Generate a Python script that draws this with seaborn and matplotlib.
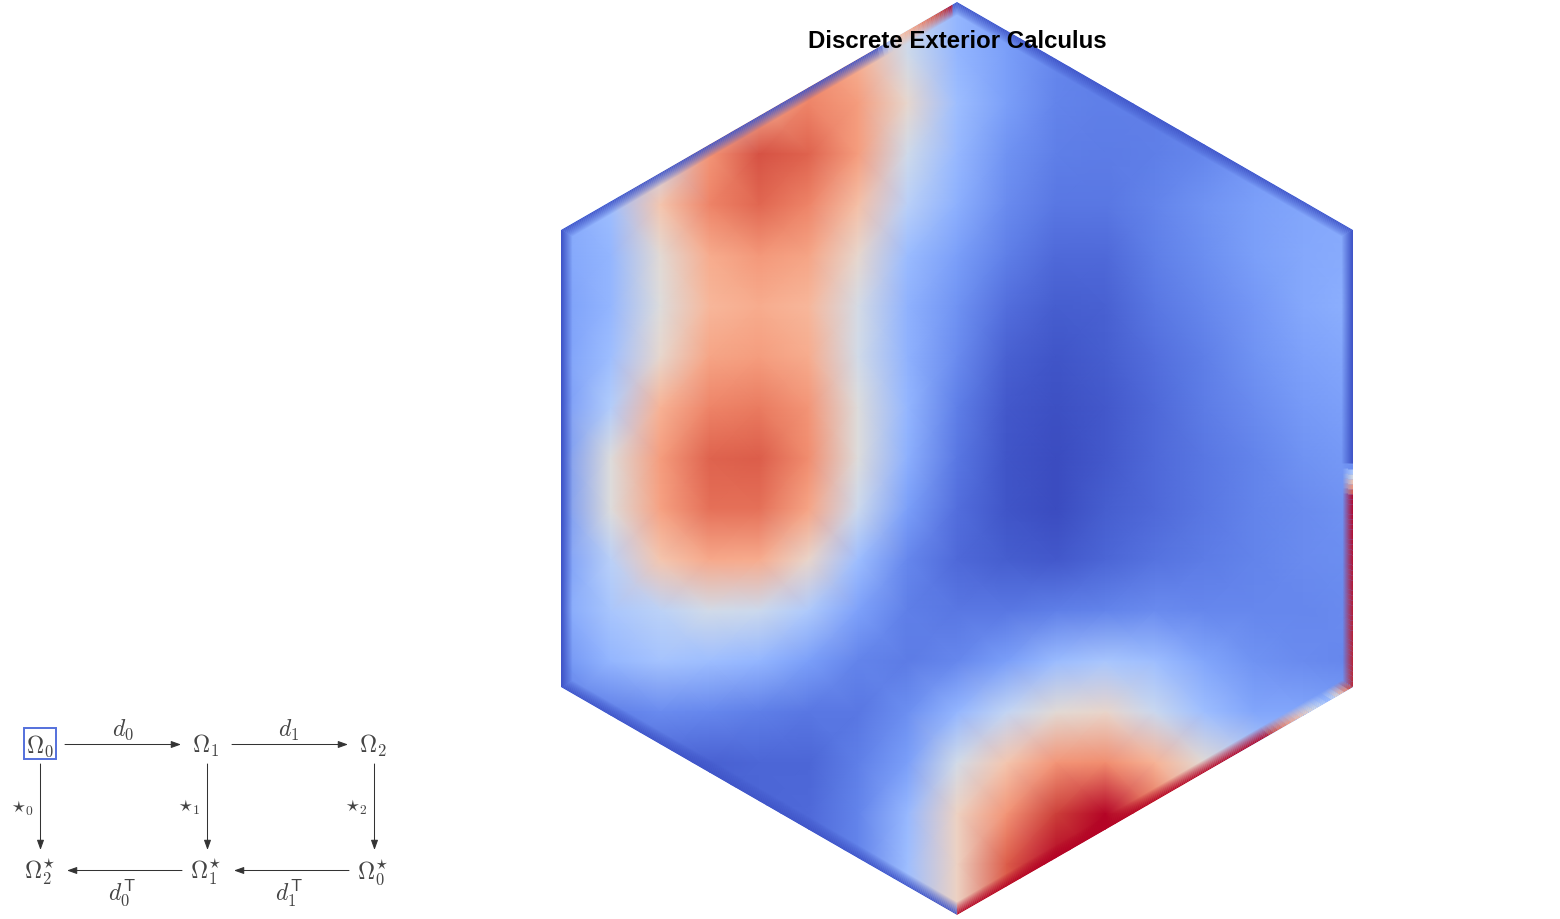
import numpy as np
import matplotlib
matplotlib.use("Agg")
import matplotlib.pyplot as plt
from matplotlib.patches import Polygon, Rectangle
import seaborn as sns

# Scalar field (rows top to bottom, columns left to right), 0..1 on coolwarm
field_rows = [
    [.20, .22, .30, .45, .64, .78, .68, .45, .27, .20, .14, .12, .12, .14, .18, .22, .24],
    [.20, .22, .30, .45, .64, .78, .68, .45, .27, .20, .14, .12, .12, .14, .18, .22, .24],
    [.20, .22, .30, .48, .68, .80, .74, .54, .30, .20, .13, .12, .12, .14, .18, .22, .24],
    [.22, .25, .40, .76, .90, .87, .74, .45, .28, .17, .12, .11, .12, .14, .18, .22, .24],
    [.22, .30, .62, .80, .86, .80, .64, .38, .25, .15, .10, .10, .13, .17, .20, .22, .24],
    [.22, .27, .52, .70, .75, .72, .54, .29, .20, .12, .07, .07, .12, .16, .20, .23, .24],
    [.20, .27, .50, .67, .70, .67, .47, .26, .17, .08, .04, .05, .10, .14, .18, .23, .25],
    [.20, .30, .54, .72, .74, .70, .46, .26, .15, .05, .02, .04, .08, .12, .17, .21, .23],
    [.18, .36, .68, .80, .82, .76, .50, .27, .12, .03, .01, .03, .07, .11, .15, .19, .21],
    [.17, .50, .74, .87, .88, .78, .50, .25, .10, .02, .00, .03, .07, .10, .13, .17, .19],
    [.17, .50, .73, .84, .84, .72, .44, .20, .08, .02, .00, .04, .07, .10, .13, .15, .17],
    [.19, .38, .62, .71, .70, .55, .30, .14, .07, .04, .03, .06, .09, .11, .13, .15, .16],
    [.22, .33, .39, .46, .44, .35, .21, .12, .10, .10, .12, .13, .15, .14, .14, .14, .15],
    [.17, .27, .32, .30, .27, .20, .13, .11, .14, .20, .29, .33, .30, .22, .17, .15, .14],
    [.12, .12, .15, .14, .12, .10, .10, .16, .27, .41, .52, .55, .43, .30, .22, .22, .20],
    [.06, .06, .06, .05, .06, .06, .12, .20, .46, .62, .76, .78, .68, .52, .40, .30, .25],
    [.06, .06, .06, .06, .06, .07, .13, .28, .57, .76, .93, 1.0, .85, .60, .50, .40, .30],
    [.06, .06, .06, .06, .06, .07, .13, .30, .57, .88, 1.0, 1.0, .85, .60, .50, .40, .30],
    [.06, .06, .06, .06, .06, .07, .13, .30, .57, .88, 1.0, 1.0, .85, .60, .50, .40, .30],
]

# Colour value on the outer boundary, by position along the perimeter (one unit per hexagon side)
rim_position = [0.0, 1.51, 1.524, 1.555, 1.582, 2.0, 2.06, 2.10, 2.15, 2.22, 3.004, 3.005, 5.80, 5.855, 5.93, 5.985, 5.986, 6.0]
rim_value = [.02, .02, .30, .68, 1.0, .97, .30, .50, .70, 1.0, 1.0, .02, .02, .62, .85, 1.0, .02, .02]

# Hexagon corners, clockwise from the top
hex_x = [957, 1353, 1353, 957, 561, 561]
hex_y = [3, 231, 688, 916, 688, 231]

title_text = "Discrete Exterior Calculus"
node_labels = [r"$\Omega_0$", r"$\Omega_1$", r"$\Omega_2$", r"$\Omega_2^{\star}$", r"$\Omega_1^{\star}$", r"$\Omega_0^{\star}$"]
node_x = [40, 206, 373, 40, 206, 373]
node_y = [746, 746, 746, 872, 872, 872]
map_labels = [r"$d_0$", r"$d_1$", r"$d_0^{\mathsf{T}}$", r"$d_1^{\mathsf{T}}$"]
map_x = [123, 289, 122, 289]
map_y = [730, 730, 893, 893]
star_labels = [r"$\star_0$", r"$\star_1$", r"$\star_2$"]
star_x = [22, 189, 356]
star_y = [808, 807, 807]
arrow_from = [(65, 745.5), (232, 745.5), (182, 871.5), (349, 871.5), (40.5, 765), (207.5, 765), (374.5, 765)]
arrow_to = [(181, 745.5), (348, 745.5), (67, 871.5), (234, 871.5), (40.5, 851), (207.5, 851), (374.5, 851)]

W, H = 1560, 920
sns.set_theme(style="white")
plt.rcParams["font.family"] = ["Liberation Sans", "DejaVu Sans"]
plt.rcParams["mathtext.fontset"] = "cm"
cmap = sns.color_palette("coolwarm", as_cmap=True)

fig = plt.figure(figsize=(W / 100, H / 100), dpi=100, facecolor="white")

# Field
left, right, top, bottom = min(hex_x), max(hex_x), min(hex_y), max(hex_y)
ax = fig.add_axes([left / W, 1 - bottom / H, (right - left) / W, (bottom - top) / H])
field = np.array(field_rows)
sns.heatmap(field, ax=ax, cmap=cmap, vmin=0, vmax=1, cbar=False,
            xticklabels=False, yticklabels=False, shading="gouraud")
ax.set_xlim(0, field.shape[1] - 1)
ax.set_ylim(field.shape[0] - 1, 0)
ax.axis("off")

# Overlay in pixel coordinates
ov = fig.add_axes([0, 0, 1, 1], facecolor="none")
ov.set_xlim(0, W)
ov.set_ylim(H, 0)
ov.axis("off")

corners = np.column_stack([hex_x, hex_y]).astype(float)
clip = Polygon(corners, closed=True, transform=ov.transData, facecolor="none", edgecolor="none")
ov.add_patch(clip)
ax.collections[0].set_clip_path(clip)

# Boundary band fading towards the interior
steps = 90
t = np.linspace(0, 6, 6 * steps + 1)
idx = np.minimum(t.astype(int), 5)
frac = t - idx
closed = np.vstack([corners, corners[:1]])
ring = closed[idx] * (1 - frac)[:, None] + closed[idx + 1] * frac[:, None]
centre = np.array([(left + right) / 2, (top + bottom) / 2])
mid = (t[:-1] + t[1:]) / 2
vals = np.round(np.interp(mid, rim_position, rim_value), 3)
# runs of equal colour become one polyline so that no seams show
breaks = [0] + list(np.nonzero(np.diff(vals))[0] + 1) + [len(vals)]
band = 11
for k in range(band):
    scale = 1 - (k + 0.5) / (right - centre[0])
    pts = centre + (ring - centre) * scale
    for a, b in zip(breaks[:-1], breaks[1:]):
        c = list(cmap(vals[a]))
        c[3] = 1 - k / band
        line, = ov.plot(pts[a:b + 1, 0], pts[a:b + 1, 1], color=c, lw=1.05 * 0.72,
                        solid_capstyle="butt", solid_joinstyle="miter")
        line.set_clip_path(clip)

# Commutative diagram
ink = "#444444"
for s, x, y in zip(node_labels, node_x, node_y):
    ov.text(x, y, s, ha="center", va="center", fontsize=17, color=ink)
for s, x, y in zip(map_labels, map_x, map_y):
    ov.text(x, y, s, ha="center", va="center", fontsize=17, color=ink)
for s, x, y in zip(star_labels, star_x, star_y):
    ov.text(x, y, s, ha="center", va="center", fontsize=14, color=ink)
for a, b in zip(arrow_from, arrow_to):
    ov.annotate("", xy=b, xytext=a, xycoords="data", textcoords="data",
                arrowprops=dict(arrowstyle="-|>,head_length=0.42,head_width=0.15", lw=0.75,
                                color="#333333", shrinkA=0, shrinkB=0, mutation_scale=14))
ov.add_patch(Rectangle((23.5, 728.5), 32, 31.5, facecolor="none", edgecolor="#5470dc", lw=1.4))

ov.text(957, 41, title_text, ha="center", va="center", fontsize=17.3, fontweight="bold", color="black")

fig.savefig("out.png", dpi=100, facecolor="white")
